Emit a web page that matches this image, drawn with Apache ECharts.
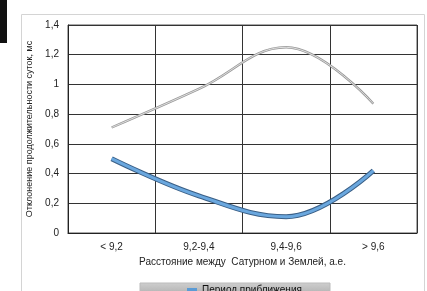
<!DOCTYPE html>
<html><head><meta charset="utf-8">
<script src="https://cdn.jsdelivr.net/npm/echarts@6/dist/echarts.min.js"></script>
<style>html,body{margin:0;padding:0;background:#fff}#c{width:427px;height:291px}</style>
</head><body><div id="c"></div>
<script>
var categories = ['< 9,2', '9,2-9,4', '9,4-9,6', '> 9,6'];
var approachValues = [0.50, 0.25, 0.11, 0.42];
var recedeValues = [0.71, 0.97, 1.25, 0.87];
var yTicks = [0, 0.2, 0.4, 0.6, 0.8, 1, 1.2, 1.4];
var approachName = 'Период приближения';
var recedeName = 'Период удаления';

var chart = echarts.init(document.getElementById('c'), null, {renderer: 'canvas'});
var fmt = function (v) { return String(Math.round(v * 10) / 10).replace('.', ','); };
chart.setOption({
  animation: false,
  textStyle: {fontFamily: 'Liberation Sans'},
  graphic: [
    {type: 'rect', shape: {x: 0, y: 0, width: 7, height: 43}, style: {fill: '#111'}},
    {type: 'rect', shape: {x: 21.5, y: 14.5, width: 403, height: 300}, style: {fill: 'none', stroke: '#d4d4d4', lineWidth: 1}},
    {type: 'rect', shape: {x: 140, y: 283, width: 190, height: 20},
      style: {fill: new echarts.graphic.LinearGradient(0, 0, 0, 1, [{offset: 0, color: '#cfcfcf'}, {offset: 1, color: '#9a9a9a'}]), stroke: '#bbb'}, z: 0}
  ],
  grid: {left: 68, right: 10, top: 25, bottom: 58, show: true, borderColor: '#555', borderWidth: 1},
  legend: {
    data: [approachName], top: 280, left: 182, itemWidth: 10, itemHeight: 4, itemGap: 2,
    icon: 'rect', textStyle: {fontSize: 10, color: '#111', fontFamily: 'Liberation Sans'}
  },
  xAxis: {
    type: 'category', data: categories, boundaryGap: true,
    name: 'Расстояние между  Сатурном и Землей, а.е.', nameLocation: 'middle', nameGap: 24,
    nameTextStyle: {fontSize: 10, color: '#222'},
    axisLine: {lineStyle: {color: '#222'}}, axisTick: {show: false},
    axisLabel: {fontSize: 10, color: '#222', margin: 9},
    splitLine: {show: true, lineStyle: {color: '#333', width: 1}}
  },
  yAxis: {
    type: 'value', min: 0, max: 1.4, interval: 0.2,
    name: 'Отклонение продолжительности суток, мс', nameLocation: 'middle', nameGap: 31, nameRotate: 90,
    nameTextStyle: {fontSize: 9, color: '#222'},
    axisLine: {show: true, lineStyle: {color: '#222'}}, axisTick: {show: false},
    axisLabel: {fontSize: 10, color: '#222', margin: 9, formatter: function (v) { return yTicks.indexOf(Math.round(v*10)/10) >= 0 ? fmt(v) : ''; }},
    splitLine: {show: true, lineStyle: {color: '#333', width: 1}}
  },
  series: [
    {name: recedeName + '_o', type: 'line', data: recedeValues, smooth: 0.4, symbol: 'none',
      lineStyle: {color: '#9a9a9a', width: 2.4}, silent: true, z: 2},
    {name: recedeName, type: 'line', data: recedeValues, smooth: 0.4, symbol: 'none',
      lineStyle: {color: '#e6e6e6', width: 0.9}, z: 3},
    {name: approachName + '_o', type: 'line', data: approachValues, smooth: 0.4, symbol: 'none',
      lineStyle: {color: '#3a5f86', width: 5}, silent: true, z: 4},
    {name: approachName, type: 'line', data: approachValues, smooth: 0.4, symbol: 'none',
      color: '#5b9bd5', lineStyle: {color: '#6aa7de', width: 3}, z: 5}
  ]
});
</script></body></html>
